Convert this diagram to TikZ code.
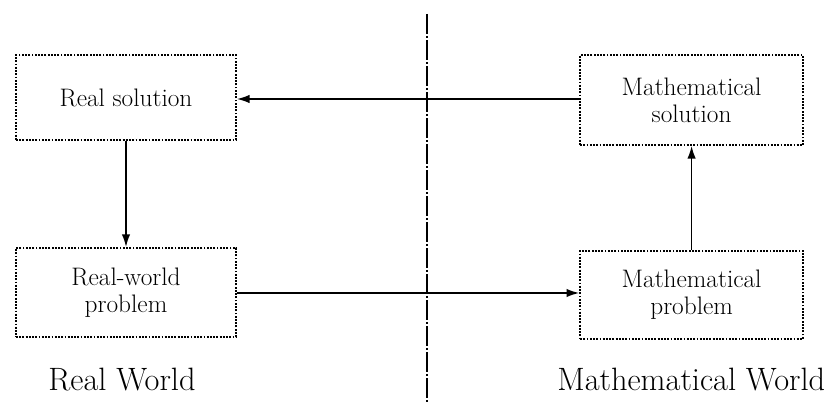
\documentclass[tikz,border=0pt]{standalone}
\usepackage{tikz}
\usetikzlibrary{arrows.meta,positioning}

\tikzset{
  worldbox/.style={draw, densely dotted, line width=1.3pt, align=center,
    minimum width=5.5cm, minimum height=2.2cm,
    font=\fontsize{18}{19}\selectfont},
  worldlabel/.style={font=\fontsize{23}{26}\selectfont},
  link/.style={-{Latex[length=9pt,width=6pt]}, line width=1.1pt}
}

\begin{document}
\begin{tikzpicture}
\useasboundingbox (0,0) rectangle (20.75,10.05);
% the four boxes
\node[worldbox, minimum height=2.125cm] (realsol) at (3.15,7.61) {Real solution};
\node[worldbox, minimum width=5.575cm, minimum height=2.25cm] (mathsol) at (17.29,7.55) {Mathematical\\solution};
\node[worldbox, minimum height=2.225cm] (realprob) at (3.15,2.74) {Real-world\\problem};
\node[worldbox, minimum width=5.575cm] (mathprob) at (17.29,2.68) {Mathematical\\problem};
% the two worlds
\node[worldlabel] (realworld) at (3.05,0.55) {Real World};
\node[worldlabel] (mathworld) at (17.28,0.55) {Mathematical World};
% border between them
\coordinate (bordertop) at (10.675,9.7);
\coordinate (borderbot) at (10.675,0);
\draw[line width=1pt, dash pattern=on 14pt off 1.5pt on 1.5pt off 1.5pt] (bordertop) -- (borderbot);
% the cycle
\draw[link] (mathsol.west |- 0,7.575) -- (realsol.east |- 0,7.575);
\draw[link] (realsol.south) -- (realprob.north);
\draw[link] (realprob.east |- 0,2.725) -- (mathprob.west |- 0,2.725);
\draw[link] (mathprob.north) -- (mathsol.south);
\end{tikzpicture}
\end{document}
